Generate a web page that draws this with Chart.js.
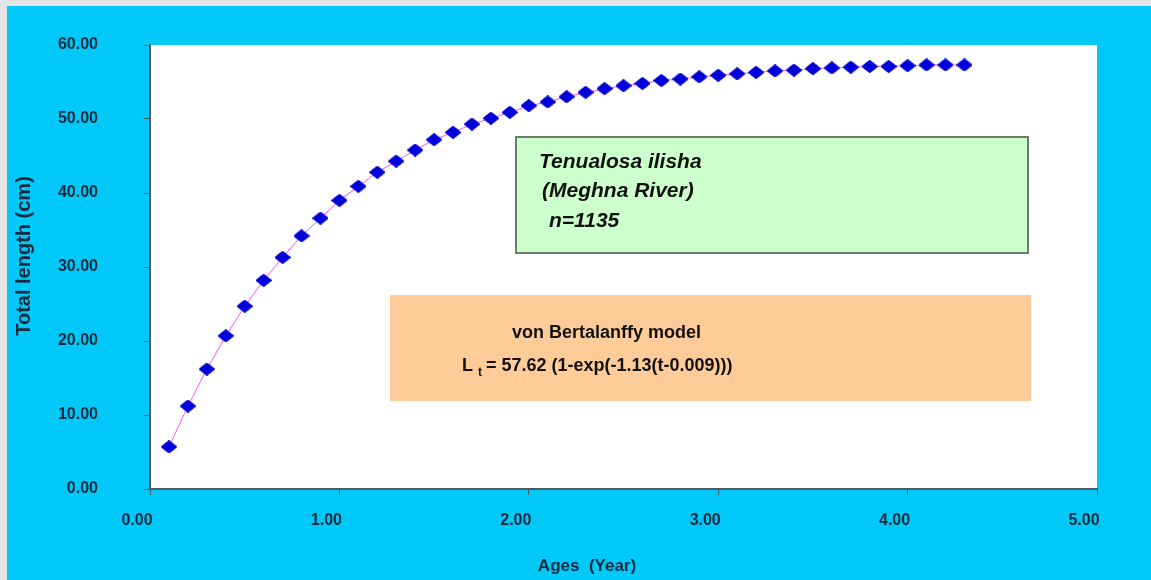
<!DOCTYPE html>
<html>
<head>
<meta charset="utf-8">
<title>Tenualosa ilisha growth</title>
<script src="https://cdn.jsdelivr.net/npm/chart.js@4.4.1/dist/chart.umd.min.js"></script>
<style>
    html, body { margin: 0; padding: 0; background: #e4e4e4; }
    #wrap { position: relative; width: 1151px; height: 580px; }
</style>
</head>
<body>
<div id="wrap"><canvas id="chart-growth"></canvas></div>
<script>
// ages (year) and total length (cm)
const ages = [0.1, 0.2, 0.3, 0.4, 0.5, 0.6, 0.7, 0.8, 0.9, 1.0,
    1.1, 1.2, 1.3, 1.4, 1.5, 1.6, 1.7, 1.8, 1.9, 2.0,
    2.1, 2.2, 2.3, 2.4, 2.5, 2.6, 2.7, 2.8, 2.9, 3.0,
    3.1, 3.2, 3.3, 3.4, 3.5, 3.6, 3.7, 3.8, 3.9, 4.0,
    4.1, 4.2, 4.3];
const totalLength = [5.7, 11.2, 16.2, 20.7, 24.7, 28.2, 31.3, 34.2, 36.6, 39.0,
    40.9, 42.8, 44.3, 45.8, 47.2, 48.2, 49.3, 50.1, 50.9, 51.8,
    52.3, 53.0, 53.6, 54.1, 54.5, 54.8, 55.2, 55.4, 55.7, 55.9,
    56.1, 56.3, 56.5, 56.6, 56.8, 56.9, 57.0, 57.1, 57.1, 57.2,
    57.3, 57.3, 57.3];
const xTickValues = [0, 1, 2, 3, 4, 5];
const yTickValues = [0, 10, 20, 30, 40, 50, 60];

const chartGrowthElement = document.getElementById('chart-growth');
const labelFont = 'Liberation Sans, Arial, sans-serif';
const tickColor = '#13293d';
const axisColor = '#4d5a66';
const markerColor = '#0000d8';

function makeMarker() {
    const c = document.createElement('canvas');
    c.width = 16;
    c.height = 13;
    const ctx = c.getContext('2d');
    ctx.fillStyle = markerColor;
    ctx.strokeStyle = markerColor;
    ctx.lineWidth = 2;
    ctx.lineJoin = 'round';
    ctx.beginPath();
    ctx.ellipse(8, 6.5, 5.5, 5, 0, 0, Math.PI * 2);
    ctx.fill();
    ctx.beginPath();
    ctx.moveTo(8, 1);
    ctx.lineTo(15, 6.5);
    ctx.lineTo(8, 12);
    ctx.lineTo(1, 6.5);
    ctx.closePath();
    ctx.fill();
    ctx.stroke();
    return c;
}

const backgroundPlugin = {
    id: 'background',
    beforeDraw(chart) {
        const ctx = chart.ctx;
        const a = chart.chartArea;
        ctx.save();
        ctx.fillStyle = '#e4e4e4';
        ctx.fillRect(0, 0, chart.width, chart.height);
        ctx.fillStyle = '#00c8f8';
        ctx.fillRect(7, 6, chart.width - 7, chart.height - 6);
        ctx.fillStyle = '#ffffff';
        ctx.fillRect(a.left, a.top, a.right - a.left, a.bottom - a.top);
        ctx.restore();
    }
};

const boxesPlugin = {
    id: 'boxes',
    beforeDatasetsDraw(chart) {
        const ctx = chart.ctx;
        ctx.save();
        // species box
        ctx.fillStyle = '#ccffcc';
        ctx.fillRect(516, 137, 512, 116);
        ctx.strokeStyle = '#6b7b6b';
        ctx.lineWidth = 2;
        ctx.strokeRect(516, 137, 512, 116);
        ctx.fillStyle = '#111111';
        ctx.textBaseline = 'alphabetic';
        ctx.font = 'italic bold 21px ' + labelFont;
        ctx.fillText('Tenualosa ilisha', 539, 168);
        ctx.fillText('(Meghna River)', 542, 197);
        ctx.fillText('n=1135', 549, 227);

        // model box
        ctx.fillStyle = '#ffcc99';
        ctx.fillRect(390, 295, 641, 106);
        ctx.fillStyle = '#111111';
        ctx.font = 'bold 18px ' + labelFont;
        ctx.fillText('von Bertalanffy model', 512, 338);
        ctx.fillText('L', 462, 371);
        ctx.fillText('= 57.62 (1-exp(-1.13(t-0.009)))', 486, 371);
        ctx.font = 'bold 12px ' + labelFont;
        ctx.fillText('t', 478, 376);
        ctx.restore();
    },
    afterDraw(chart) {
        const ctx = chart.ctx;
        ctx.save();
        ctx.fillStyle = tickColor;
        ctx.textAlign = 'center';
        ctx.textBaseline = 'middle';
        ctx.font = 'bold 17px ' + labelFont;
        ctx.fillText('Ages  (Year)', 587, 566);
        ctx.translate(24, 256);
        ctx.rotate(-Math.PI / 2);
        ctx.font = 'bold 20px ' + labelFont;
        ctx.fillText('Total length (cm)', 0, 0);
        ctx.restore();
    }
};

function initChart_Growth() {
    const points = ages.map((t, i) => ({ x: t, y: totalLength[i] }));
    return new Chart(chartGrowthElement, {
        type: 'scatter',
        data: {
            datasets: [{
                label: 'Total length',
                data: points,
                showLine: true,
                borderColor: '#ff55ff',
                borderWidth: 1,
                pointStyle: makeMarker(),
                pointRadius: 7,
                pointHoverRadius: 7,
                backgroundColor: markerColor
            }]
        },
        options: {
            responsive: true,
            maintainAspectRatio: false,
            animation: false,
            layout: {
                padding: { top: 45, right: 54, left: 0, bottom: 0 }
            },
            scales: {
                x: {
                    type: 'linear',
                    min: 0,
                    max: 5,
                    afterBuildTicks: axis => { axis.ticks = xTickValues.map(v => ({ value: v })); },
                    afterFit: axis => { axis.height = 91; },
                    ticks: {
                        color: tickColor,
                        font: { family: labelFont, size: 16, weight: 'bold' },
                        padding: 16,
                        labelOffset: -13,
                        maxRotation: 0,
                        callback: v => v.toFixed(2)
                    },
                    grid: {
                        drawOnChartArea: false,
                        color: axisColor,
                        tickLength: 6
                    },
                    border: { color: axisColor, width: 2 }
                },
                y: {
                    min: 0,
                    max: 60,
                    afterBuildTicks: axis => { axis.ticks = yTickValues.map(v => ({ value: v })); },
                    afterFit: axis => {
                        axis.width = 150;
                        axis.paddingTop = 0;
                        axis.paddingBottom = 0;
                    },
                    ticks: {
                        color: tickColor,
                        font: { family: labelFont, size: 16, weight: 'bold' },
                        padding: 46,
                        callback: v => v.toFixed(2)
                    },
                    grid: {
                        drawOnChartArea: false,
                        color: axisColor,
                        tickLength: 6
                    },
                    border: { color: axisColor, width: 2 }
                }
            },
            plugins: {
                legend: { display: false },
                tooltip: { enabled: false }
            }
        },
        plugins: [backgroundPlugin, boxesPlugin]
    });
}

initChart_Growth();
</script>
</body>
</html>
